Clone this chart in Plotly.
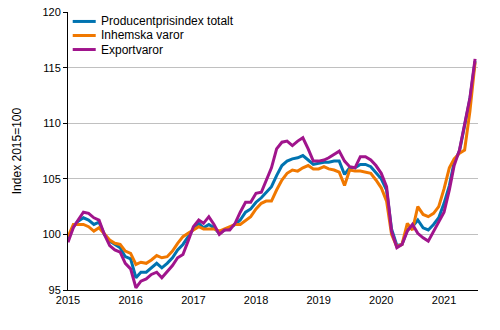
import pandas as pd
import plotly.graph_objects as go

months = pd.date_range("2015-01-01", "2021-07-01", freq="MS")

totalt = [99.6, 100.7, 101.2, 101.5, 101.3, 100.9, 101.1, 100.0, 99.4, 99.1, 98.8, 98.0,
          97.8, 96.1, 96.6, 96.6, 97.0, 97.4, 97.0, 97.4, 97.9, 98.6, 99.1, 99.8,
          100.5, 101.0, 100.6, 100.9, 100.6, 100.1, 100.4, 100.6, 100.9, 101.3, 102.0, 102.3,
          102.9, 103.3, 103.8, 104.3, 105.3, 106.2, 106.6, 106.8, 106.9, 107.1, 106.7, 106.3,
          106.4, 106.5, 106.5, 106.6, 106.6, 105.4, 106.0, 106.0, 106.3, 106.3, 106.1, 105.6,
          105.0, 104.0, 100.5, 99.0, 99.1, 100.4, 100.7, 101.3, 100.6, 100.4, 100.9, 101.5,
          102.8, 104.4, 106.5, 107.5, 109.8, 112.2, 115.6]

inhemska = [99.8, 100.9, 100.9, 100.9, 100.7, 100.3, 100.6, 100.0, 99.5, 99.2, 99.1, 98.5,
            98.3, 97.3, 97.5, 97.4, 97.7, 98.1, 97.9, 98.0, 98.5, 99.2, 99.8, 100.1,
            100.4, 100.7, 100.5, 100.5, 100.5, 100.3, 100.5, 100.7, 100.9, 100.9, 101.3, 101.6,
            102.3, 102.8, 103.0, 103.0, 104.0, 104.9, 105.5, 105.8, 105.7, 106.0, 106.2, 105.9,
            105.9, 106.1, 105.9, 105.8, 105.6, 104.4, 105.8, 105.7, 105.7, 105.6, 105.5, 104.9,
            104.2, 103.0, 100.0, 98.9, 99.1, 101.0, 100.4, 102.5, 101.8, 101.6, 101.9, 102.5,
            104.1, 106.0, 106.8, 107.3, 107.6, 111.1, 115.5]

export = [99.3, 100.6, 101.3, 102.0, 101.9, 101.5, 101.3, 100.0, 99.0, 98.6, 98.4, 97.4,
          96.9, 95.2, 95.8, 96.0, 96.4, 96.6, 96.1, 96.7, 97.2, 97.9, 98.2, 99.4,
          100.7, 101.3, 101.0, 101.6, 100.9, 100.0, 100.4, 100.4, 101.0, 102.0, 102.9, 102.9,
          103.7, 103.8, 104.8, 106.0, 107.7, 108.3, 108.4, 108.0, 108.4, 108.7, 107.7, 106.6,
          106.6, 106.7, 106.9, 107.2, 107.5, 106.6, 106.1, 106.0, 107.0, 107.0, 106.7, 106.2,
          105.5, 104.3, 100.3, 98.8, 99.1, 100.3, 100.9, 100.1, 99.7, 99.4, 100.3, 101.2,
          102.0, 104.0, 106.2, 107.6, 110.0, 112.3, 115.8]

series_names = ["Producentprisindex totalt", "Inhemska varor", "Exportvaror"]
colors = ["#0073b0", "#f07800", "#a0148c"]
year_ticks = ["2015", "2016", "2017", "2018", "2019", "2020", "2021"]

fig = go.Figure()
for name, vals, col in zip(series_names, [totalt, inhemska, export], colors):
    fig.add_trace(go.Scatter(x=months, y=vals, mode="lines", name=name,
                             line=dict(color=col, width=3), showlegend=False))

# compact legend drawn in paper coordinates (top-left inside the plot)
leg_y = [0.966, 0.9155, 0.865]
for name, col, yy in zip(series_names, colors, leg_y):
    fig.add_shape(type="line", xref="paper", yref="paper",
                  x0=0.0115, x1=0.0676, y0=yy, y1=yy,
                  line=dict(color=col, width=3))
    fig.add_annotation(xref="paper", yref="paper", x=0.0763, y=yy,
                       text=name, showarrow=False, xanchor="left", yanchor="middle",
                       font=dict(size=12, color="black"))

fig.update_layout(
    width=500, height=330,
    margin=dict(l=68, r=22, t=6, b=40),
    plot_bgcolor="white", paper_bgcolor="white",
    font=dict(family="Liberation Sans, Arial, sans-serif", size=11, color="black"),
    showlegend=False,
)
fig.update_xaxes(
    range=["2015-01-01", "2021-07-18"],
    tickvals=[f"{y}-01-01" for y in year_ticks], ticktext=year_ticks,
    showgrid=False, showline=True, linecolor="black", linewidth=1,
    ticks="", zeroline=False,
)
fig.update_yaxes(
    range=[95, 120.02], tickvals=[95, 100, 105, 110, 115, 120],
    showgrid=True, gridcolor="#c0c0c0", gridwidth=1,
    showline=True, linecolor="black", linewidth=1,
    ticks="outside", ticklen=4, tickcolor="black",
    ticklabeloverflow="allow",
    zeroline=False,
    title=dict(text="Index 2015=100", font=dict(size=12), standoff=18),
)

fig.write_html("out.html")
